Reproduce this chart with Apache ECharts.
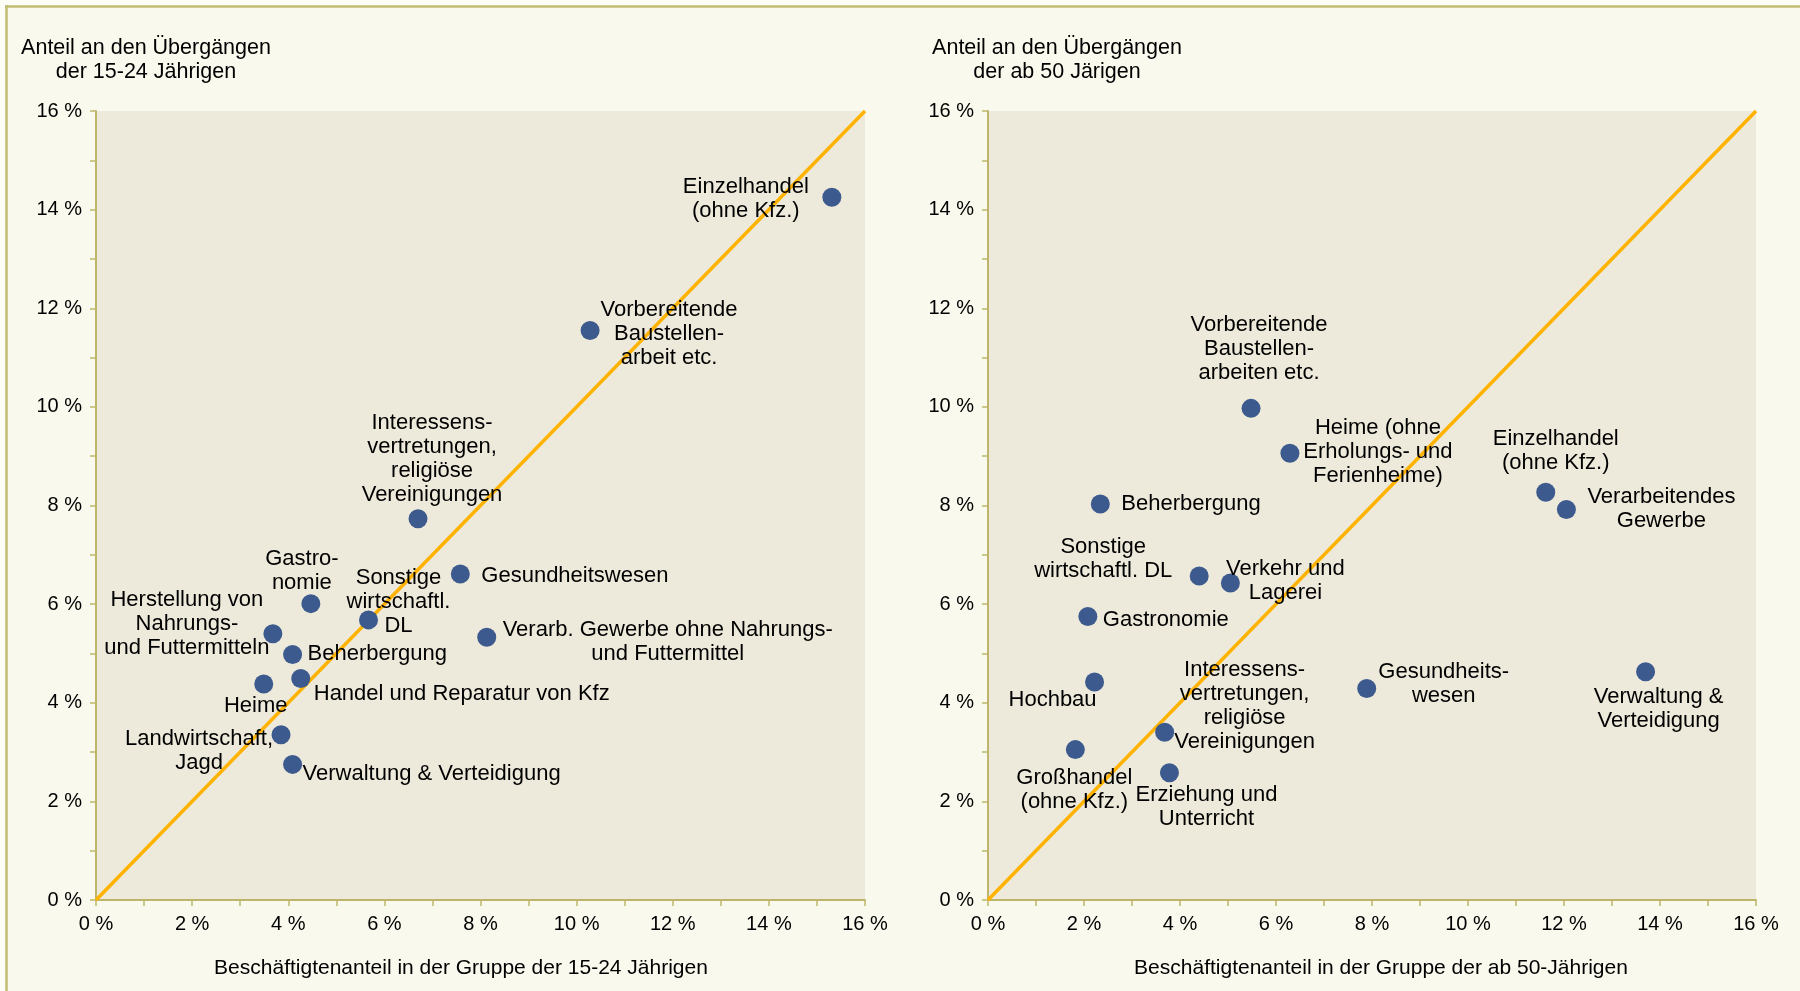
<!DOCTYPE html>
<html>
<head>
<meta charset="utf-8">
<script src="https://cdn.jsdelivr.net/npm/echarts@6/dist/echarts.min.js"></script>
<style>
html,body{margin:0;padding:0;background:#fdfdf8;}
#c{width:1800px;height:991px;}
</style>
</head>
<body>
<div id="c"></div>
<script>
// ---------- data ----------
const youngLabels = [
  "Einzelhandel\n(ohne Kfz.)",
  "Vorbereitende\nBaustellen-\narbeit etc.",
  "Interessens-\nvertretungen,\nreligiöse\nVereinigungen",
  "Gesundheitswesen",
  "Verarb. Gewerbe ohne Nahrungs-\nund Futtermittel",
  "Sonstige\nwirtschaftl.\nDL",
  "Gastro-\nnomie",
  "Herstellung von\nNahrungs-\nund Futtermitteln",
  "Beherbergung",
  "Handel und Reparatur von Kfz",
  "Heime",
  "Landwirtschaft,\nJagd",
  "Verwaltung & Verteidigung"
];
const youngX = [15.31, 10.28, 6.70, 7.58, 8.13, 5.67, 4.47, 3.68, 4.09, 4.26, 3.49, 3.85, 4.09];
const youngY = [14.25, 11.55, 7.73, 6.61, 5.33, 5.68, 6.01, 5.40, 4.98, 4.49, 4.38, 3.35, 2.75];

const oldLabels = [
  "Vorbereitende\nBaustellen-\narbeiten etc.",
  "Heime (ohne\nErholungs- und\nFerienheime)",
  "Einzelhandel\n(ohne Kfz.)",
  "Verarbeitendes\nGewerbe",
  "Beherbergung",
  "Sonstige\nwirtschaftl. DL",
  "Verkehr und\nLagerei",
  "Gastronomie",
  "Hochbau",
  "Gesundheits-\nwesen",
  "Verwaltung &\nVerteidigung",
  "Interessens-\nvertretungen,\nreligiöse\nVereinigungen",
  "Großhandel\n(ohne Kfz.)",
  "Erziehung und\nUnterricht"
];
const oldX = [5.48, 6.29, 11.62, 12.05, 2.34, 4.40, 5.05, 2.08, 2.22, 7.89, 13.70, 3.68, 1.82, 3.78];
const oldY = [9.97, 9.06, 8.27, 7.92, 8.03, 6.57, 6.43, 5.75, 4.42, 4.29, 4.63, 3.40, 3.05, 2.58];

const diagonal = [[0, 0], [16, 16]];
const axisMin = 0, axisMax = 16, axisStep = 2;

// ---------- label layout (styling, offsets in px from the marker centre) ----------
const youngLayout = [
  ['center', -86, 2], ['center', 79, 3], ['center', 14, -60], ['left', 21, 2],
  ['center', 181, 5], ['center', 30, -18], ['center', -9, -33], ['center', -86, -10],
  ['left', 15, 0], ['left', 13, 15], ['center', -8, 22], ['center', -82, 16], ['left', 10, 10]
];
const oldLayout = [
  ['center', 8, -59], ['center', 88, -1], ['center', 10, -41], ['center', 95, -1],
  ['left', 21, 0], ['center', -96, -17], ['center', 55, -2], ['left', 15, 3],
  ['center', -42, 18], ['center', 77, -5], ['center', 13, 37], ['center', 80, -26],
  ['center', -1, 40], ['center', 37, 34]
];

// ---------- styling ----------
const FONT = 'Liberation Sans, Arial, sans-serif';
const TXT = '#000000';
const AXIS = '#bdb66a';
const DOT = '#3d5a8e';
const GOLD = '#ffb300';

function buildPoints(xs, ys, labels, layout) {
  return xs.map((x, i) => ({
    value: [x, ys[i]],
    name: labels[i],
    label: {
      show: true,
      position: 'inside',
      formatter: labels[i],
      align: layout[i][0],
      verticalAlign: 'middle',
      color: TXT
    }
  }));
}
function layoutFn(layout) {
  return function (p) {
    const l = layout[p.dataIndex];
    return { dx: l[1], dy: l[2], hideOverlap: false, moveOverlap: false };
  };
}

function axisFor(idx) {
  return {
    type: 'value', gridIndex: idx, min: axisMin, max: axisMax, interval: axisStep,
    axisLine: { show: true, lineStyle: { color: AXIS, width: 2 } },
    axisTick: { show: true, length: 6, lineStyle: { color: AXIS, width: 1.5 } },
    minorTick: { show: true, splitNumber: 2, length: 6, lineStyle: { color: AXIS, width: 1.5 } },
    splitLine: { show: false },
    axisLabel: { formatter: '{value} %', color: TXT, fontFamily: FONT, fontSize: 20, margin: 14 }
  };
}

const labelStyle = { color: TXT, fontFamily: FONT, fontSize: 22, lineHeight: 24 };
const titleStyle = { color: TXT, fontFamily: FONT, fontSize: 21.5, fontWeight: 'normal', lineHeight: 24 };
const xTitleStyle = { color: TXT, fontFamily: FONT, fontSize: 21, fontWeight: 'normal' };

const chart = echarts.init(document.getElementById('c'), null, { renderer: 'canvas' });
chart.setOption({
  backgroundColor: '#f9f9ee',
  animation: false,
  graphic: [
    { type: 'rect', shape: { x: 0, y: 0, width: 1800, height: 5 }, style: { fill: '#fdfdf8' }, silent: true, z: -1 },
    { type: 'rect', shape: { x: 0, y: 0, width: 5, height: 991 }, style: { fill: '#fdfdf8' }, silent: true, z: -1 },
    { type: 'line', shape: { x1: 5, y1: 6.5, x2: 1800, y2: 6.5 }, style: { stroke: '#c2bb72', lineWidth: 2.5 }, silent: true },
    { type: 'line', shape: { x1: 6.5, y1: 5, x2: 6.5, y2: 991 }, style: { stroke: '#c2bb72', lineWidth: 2.5 }, silent: true }
  ],
  title: [
    { text: 'Anteil an den Übergängen\nder 15-24 Jährigen', left: 141, top: 31, textAlign: 'center', textStyle: titleStyle },
    { text: 'Anteil an den Übergängen\nder ab 50 Järigen', left: 1052, top: 31, textAlign: 'center', textStyle: titleStyle },
    { text: 'Beschäftigtenanteil in der Gruppe der 15-24 Jährigen', left: 456, top: 953, textAlign: 'center', textStyle: xTitleStyle },
    { text: 'Beschäftigtenanteil in der Gruppe der ab 50-Jährigen', left: 1376, top: 953, textAlign: 'center', textStyle: xTitleStyle }
  ],
  grid: [
    { left: 96, top: 111, width: 769, height: 789, show: true, backgroundColor: '#edeadb', borderWidth: 0 },
    { left: 988, top: 111, width: 768, height: 789, show: true, backgroundColor: '#edeadb', borderWidth: 0 }
  ],
  xAxis: [axisFor(0), axisFor(1)],
  yAxis: [axisFor(0), axisFor(1)],
  series: [
    { type: 'line', xAxisIndex: 0, yAxisIndex: 0, data: diagonal, symbol: 'none',
      lineStyle: { color: GOLD, width: 3.5 }, z: 2, silent: true },
    { type: 'line', xAxisIndex: 1, yAxisIndex: 1, data: diagonal, symbol: 'none',
      lineStyle: { color: GOLD, width: 3.5 }, z: 2, silent: true },
    { type: 'scatter', xAxisIndex: 0, yAxisIndex: 0, symbolSize: 19, z: 3,
      itemStyle: { color: DOT, opacity: 1 }, label: labelStyle, labelLayout: layoutFn(youngLayout),
      data: buildPoints(youngX, youngY, youngLabels, youngLayout) },
    { type: 'scatter', xAxisIndex: 1, yAxisIndex: 1, symbolSize: 19, z: 3,
      itemStyle: { color: DOT, opacity: 1 }, label: labelStyle, labelLayout: layoutFn(oldLayout),
      data: buildPoints(oldX, oldY, oldLabels, oldLayout) }
  ]
});
</script>
</body>
</html>
